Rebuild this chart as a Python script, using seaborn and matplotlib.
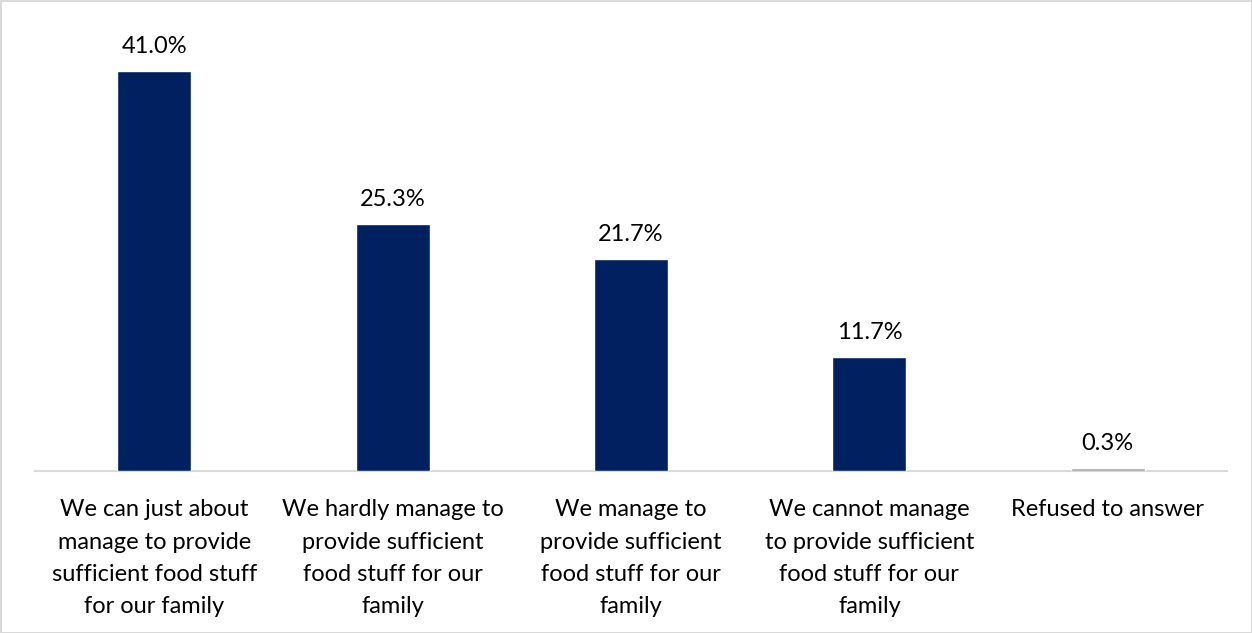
import pandas as pd
import numpy as np
import matplotlib.pyplot as plt
import seaborn as sns

# data
categories = [
    "We can just about\nmanage to provide\nsufficient food stuff\nfor our family",
    "We hardly manage to\nprovide sufficient\nfood stuff for our\nfamily",
    "We manage to\nprovide sufficient\nfood stuff for our\nfamily",
    "We cannot manage\nto provide sufficient\nfood stuff for our\nfamily",
    "Refused to answer",
]
shares = [41.0, 25.3, 21.7, 11.7, 0.3]
bar_colors = ["#002060", "#002060", "#002060", "#002060", "#A6A6A6"]

df = pd.DataFrame({"answer": categories, "share": shares})

sns.set_style("white")
plt.rcParams['font.family'] = ['Lato', 'DejaVu Sans']

fig = plt.figure(figsize=(12.52, 6.33), dpi=100)
fig.patch.set_edgecolor("#D9D9D9")
fig.patch.set_linewidth(2)
ax = fig.add_axes([35 / 1252, 1 - 471 / 633, 1192 / 1252, 451 / 633])

sns.barplot(data=df, x="answer", y="share", hue="answer", palette=bar_colors,
            legend=False, width=0.31, saturation=1, ax=ax, zorder=3)

ax.set_ylim(0, 451 / 9.756)
ax.set_xlim(-0.5, 4.5)
ax.set_xlabel("")
ax.set_ylabel("")
ax.set_yticks([])
for s in ["top", "left", "right"]:
    ax.spines[s].set_visible(False)
ax.spines["bottom"].set_color("#D9D9D9")
ax.spines["bottom"].set_linewidth(1.5)
ax.spines["bottom"].set_zorder(0.5)
ax.tick_params(axis="x", length=0, pad=20.5, labelsize=17, labelcolor="black")
for lbl in ax.get_xticklabels():
    lbl.set_linespacing(1.66)

for cont in ax.containers:
    ax.bar_label(cont, fmt="%.1f%%", padding=10, fontsize=17, color="black")

fig.savefig("out.png", dpi=100)
